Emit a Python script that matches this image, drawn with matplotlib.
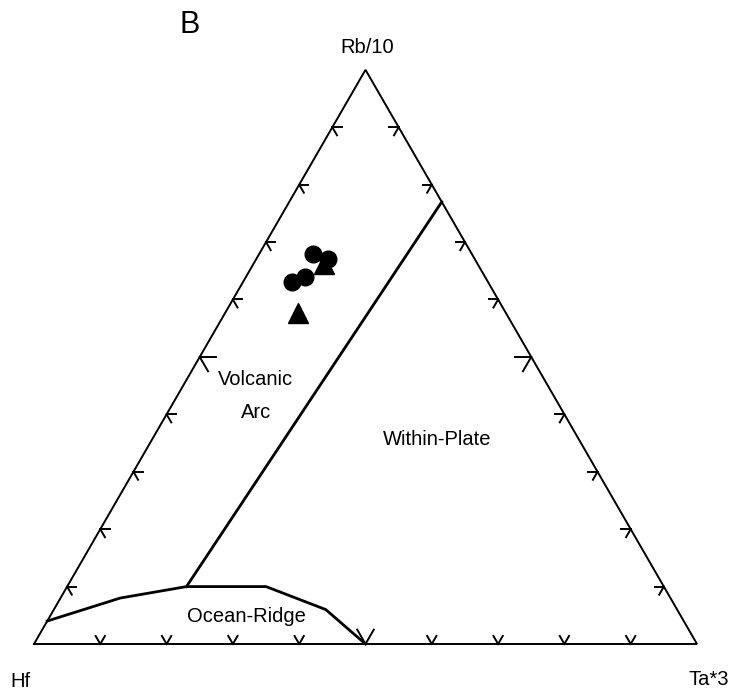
import numpy as np
import matplotlib
matplotlib.use('Agg')
import matplotlib.pyplot as plt

plt.rcParams['font.family'] = ['Liberation Sans', 'DejaVu Sans']

# Sample compositions, as fractions of (Hf + Rb/10 + Ta*3)
circle_rb = [0.679, 0.670, 0.640, 0.630]
circle_ta = [0.081, 0.108, 0.089, 0.074]
tri_rb = [0.661, 0.577]
tri_ta = [0.107, 0.110]

# Field boundaries (Rb/10, Ta*3)
arc_wp_rb = [0.10, 0.77]
arc_wp_ta = [0.18, 0.23]
ridge_rb = [0.04, 0.08, 0.10, 0.10, 0.06, 0.00]
ridge_ta = [0.00, 0.09, 0.18, 0.30, 0.41, 0.50]

tick_fracs = np.arange(1, 10) / 10.0
SQ = np.sqrt(3) / 2


def tern(rb, ta):
    """Rb/10 = top, Ta*3 = bottom right, Hf = bottom left"""
    rb = np.asarray(rb, dtype=float)
    ta = np.asarray(ta, dtype=float)
    return ta + rb / 2, rb * SQ


fig = plt.figure(figsize=(7.31, 6.92), dpi=100)
ax = fig.add_axes([0, 0, 1, 1])
ax.set_xlim(-34 / 663, (731 - 34) / 663)
ax.set_ylim((644 - 692) / 663, 644 / 663)
ax.axis('off')

# Outline
ox, oy = tern([0, 0, 1, 0], [0, 1, 0, 0])
ax.plot(ox, oy, color='black', lw=1.4, solid_joinstyle='miter')

# Ticks: two short strokes parallel to the other two edges
dirs = {
    'bottom': [(0.5, SQ), (-0.5, SQ)],
    'left': [(1.0, 0.0), (0.5, -SQ)],
    'right': [(-1.0, 0.0), (-0.5, -SQ)],
}
for f in tick_fracs:
    ln = 0.025 if abs(f - 0.5) < 1e-9 else 0.014
    pts = {
        'bottom': tern(0, f),
        'left': tern(f, 0),
        'right': tern(f, 1 - f),
    }
    for edge, (px, py) in pts.items():
        for dx, dy in dirs[edge]:
            ax.plot([px, px + dx * ln], [py, py + dy * ln], color='black', lw=1.4)

# Field boundaries
x, y = tern(arc_wp_rb, arc_wp_ta)
ax.plot(x, y, color='black', lw=2.0)
x, y = tern(ridge_rb, ridge_ta)
ax.plot(x, y, color='black', lw=2.0, solid_joinstyle='miter')

# Samples
x, y = tern(tri_rb, tri_ta)
ax.plot(x, y, ls='none', marker='^', ms=14, color='black', zorder=5)
x, y = tern(circle_rb, circle_ta)
ax.plot(x, y, ls='none', marker='o', ms=12, color='black', zorder=6)

# Labels
fs = 14.5
ax.text(0.5023, 0.891, 'Rb/10', ha='center', va='baseline', fontsize=fs)
ax.text(-0.021, -0.065, 'Hf', ha='center', va='baseline', fontsize=fs)
ax.text(1.018, -0.062, 'Ta*3', ha='center', va='baseline', fontsize=fs)
ax.text(0.235, 0.9216, 'B', ha='center', va='baseline', fontsize=22)
ax.text(0.608, 0.300, 'Within-Plate', ha='center', va='baseline', fontsize=fs)
ax.text(0.320, 0.0336, 'Ocean-Ridge', ha='center', va='baseline', fontsize=fs)
ax.text(0.3333, 0.3906, 'Volcanic', ha='center', va='baseline', fontsize=fs)
ax.text(0.335, 0.341, 'Arc', ha='center', va='baseline', fontsize=fs)

fig.savefig('out.png', dpi=100, facecolor='white')
